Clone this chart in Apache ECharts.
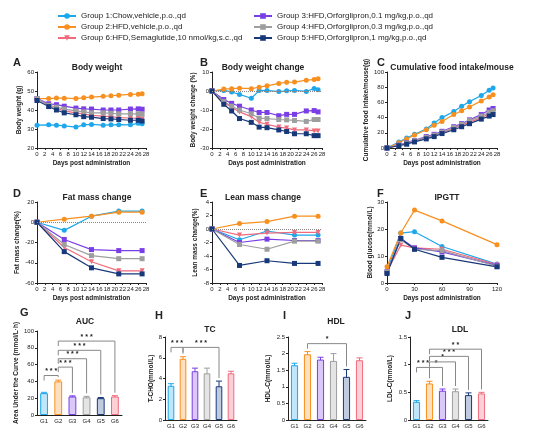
<!DOCTYPE html>
<html><head><meta charset="utf-8">
<script src="https://cdn.jsdelivr.net/npm/echarts@6/dist/echarts.min.js"></script>
<style>html,body{margin:0;padding:0;background:#fff}#c{width:550px;height:446px}</style>
</head><body><div id="c"></div>
<script>
const groupNames=['Group 1:Chow,vehicle,p.o.,qd','Group 2:HFD,vehicle,p.o.,qd','Group 3:HFD,Orforglipron,0.1 mg/kg,p.o.,qd','Group 4:HFD,Orforglipron,0.3 mg/kg,p.o.,qd','Group 5:HFD,Orforglipron,1 mg/kg,p.o.,qd','Group 6:HFD,Semaglutide,10 nmol/kg,s.c.,qd'];
const colors=['#1ea7ea','#f7901e','#7a3ee6','#9e9e9e','#17397a','#ef6b7d'];
const symbols=['circle','circle','rect','rect','rect','path://M0,0L10,0L5,9Z'];
const barCats=['G1','G2','G3','G4','G5','G6'];
const days=[0,3,5,7,10,12,14,17,19,21,24,26,27];
const bw=[[32,32.2,32,31.6,31,32.2,32.4,32,32.2,32.3,32.2,33,32.8],[46,46,46.3,46.2,46,46.5,46.8,47.2,47.5,47.8,48.2,48.3,48.5],[46,43.3,42.8,42,41,40.6,40.5,40,40,40,40.5,40.6,40.4],[46,42.5,41.5,40.5,39.5,39,38.5,38.5,38.3,38,38,38,37.8],[45,41.8,40,38.5,37.5,36.5,36.2,35.5,35.3,35,34.6,34.6,34.2],[46,42.5,41,39.5,38.5,38,37.2,36.8,36.5,36,35.8,35.6,35.3]];
const bwc=[[0,0.3,-0.5,-1.8,-3.8,0.2,0.3,-0.3,0.1,0.3,-0.2,1.3,0.6],[0,1,1.2,1.5,1.2,2,2.7,4,4.6,4.7,5.7,6,6.5],[0,-4.5,-6.5,-8,-10,-11.3,-11.3,-13,-12.3,-12.3,-10.5,-10.3,-11],[0,-5.5,-8,-10,-12,-14.3,-14.5,-15,-15.2,-15.5,-16,-15,-15],[0,-7,-10.5,-14.5,-16.5,-19,-19.3,-20.5,-21.3,-22.5,-22.5,-23.5,-23.5],[0,-6,-8.5,-11,-13.5,-16.5,-17.5,-19,-19.5,-20.5,-20.5,-21,-21]];
const food=[[0,8,13,18,25,33,40,48,55,61,69,76,79],[0,7,12,17,24,30,35,44,49,54,62,67,70],[0,4,7,10,15,18,22,28,32,37,44,50,52],[0,4,6.5,9.5,14,17,21,27,31,36,42,47,49],[0,3,5,8,12,15,19,24,28,32,38,42,44],[0,3.5,6,9,13.5,16.5,20,26,30,34,40,45,47]];
const compDays=[0,7,14,21,27];
const fat=[[0,-8,6,11,11],[0,3,6,10,10],[0,-17,-27,-28,-28],[0,-22,-33,-36,-36],[0,-29,-45,-51,-51],[0,-25,-39,-48,-48]];
const lean=[[0,-1.6,-0.3,-0.9,-0.9],[0,0.8,1.1,1.9,1.9],[0,-2,-1.5,-1.7,-1.7],[0,-2.3,-3,-1.8,-1.8],[0,-5.4,-4.7,-5.1,-5.1],[0,-0.9,-0.6,-0.5,-0.5]];
const gttTimes=[0,15,30,60,120];
const gtt=[[4.5,18.5,19,13.5,7],[6,18.5,27,23,14.2],[4,16.5,13,11.5,6.5],[4,16,12.5,12,6.2],[3.5,16.5,12.5,9.5,6],[4.2,14,13,12.5,6.8]];
const auc=[26,40,22,21,20,22], aucErr=[1,1.5,0.8,1.2,0.8,1];
const tc=[3.3,5.9,4.7,4.5,3.25,4.5], tcErr=[0.2,0.2,0.3,0.5,0.5,0.2];
const hdl=[1.65,1.98,1.82,1.78,1.3,1.8], hdlErr=[0.06,0.08,0.07,0.22,0.22,0.07];
const ldl=[0.33,0.66,0.53,0.52,0.45,0.48], ldlErr=[0.02,0.04,0.03,0.04,0.04,0.02];
const aucSig=[[0,1,47,'* * *'],[1,2,57,'* * *'],[1,3,67,'* * *'],[1,4,77,'* * *'],[1,5,88,'* * *']];
const tcSig=[[0,1,7,'* * *'],[1,4,7,'* * *']];
const hdlSig=[[1,4,2.3,'*']];
const ldlSig=[[0,1,0.95,'* * *'],[1,2,0.95,'*'],[1,3,1.05,'*'],[1,4,1.15,'* * *'],[1,5,1.28,'* *']];

const txt='#222', ff='Arial';
const grids=[
 {left:37,top:72,width:109,height:76},{left:212,top:72,width:110,height:76},{left:387,top:72,width:110,height:76},
 {left:37,top:202,width:109,height:81},{left:212,top:202,width:110,height:81},{left:387,top:202,width:110,height:81},
 {left:37,top:331,width:85,height:84},{left:165,top:337,width:72,height:83},{left:288,top:337,width:78,height:83},{left:410,top:337,width:78,height:83}];
const axLine={lineStyle:{color:'#222',width:1}};
const lab={fontSize:6,color:txt,fontFamily:ff,margin:3};
function vAx(i,min,max,iv,name,gap){return {gridIndex:i,type:'value',min,max,interval:iv,name,nameLocation:'middle',nameGap:gap,nameTextStyle:{fontSize:6.5,fontWeight:'bold',color:txt,fontFamily:ff},axisLine:Object.assign({show:true},axLine),axisTick:{show:true,length:2,lineStyle:{color:'#222'}},axisLabel:lab,splitLine:{show:false}};}
function xVal(i,max,iv){return {gridIndex:i,type:'value',min:0,max,interval:iv,name:'Days post administration',nameLocation:'middle',nameGap:12,nameTextStyle:{fontSize:6.5,fontWeight:'bold',color:txt,fontFamily:ff},axisLine:Object.assign({onZero:false},axLine),axisTick:{length:2,lineStyle:{color:'#222'}},axisLabel:lab,splitLine:{show:false}};}
function xCat(i){return {gridIndex:i,type:'category',data:barCats,axisLine:axLine,axisTick:{length:2,alignWithLabel:true,lineStyle:{color:'#222'}},axisLabel:lab};}
const xAxis=[xVal(0,28,2),xVal(1,28,2),xVal(2,28,2),xVal(3,28,2),xVal(4,28,2),xVal(5,120,30),xCat(6),xCat(7),xCat(8),xCat(9)];
const yAxis=[vAx(0,20,60,10,'Body weight (g)',14),vAx(1,-30,10,10,'Body weight change (%)',14),vAx(2,0,100,20,'Cumulative food intake/mouse(g)',14),
 vAx(3,-60,20,20,'Fat mass change(%)',16),vAx(4,-8,4,2,'Lean mass change(%)',13),vAx(5,0,30,10,'Blood glucose(mmol/L)',12),
 vAx(6,0,100,20,'Area Under the Curve (mmol/L·h)',17),vAx(7,0,8,2,'T-CHO(mmol/L)',9),vAx(8,0,2.5,0.5,'HDL-C(mmol/L)',16),vAx(9,0,1.5,0.5,'LDL-C(mmol/L)',16)];
const series=[];
const order=[0,1,5,2,3,4];
function lines(gi,xs,arr,zero){
 order.forEach(g=>{
  const s={type:'line',name:groupNames[g],xAxisIndex:gi,yAxisIndex:gi,data:xs.map((x,k)=>[x,arr[g][k]]),color:colors[g],symbol:symbols[g],symbolSize:5,lineStyle:{width:1.2},itemStyle:{color:colors[g]}};
  if(zero&&g===0) s.markLine={silent:true,symbol:'none',label:{show:false},lineStyle:{type:'dotted',color:'#888',width:1},data:[{yAxis:0}]};
  series.push(s);
 });
}
lines(0,days,bw);lines(1,days,bwc,true);lines(2,days,food);lines(3,compDays,fat,true);lines(4,compDays,lean,true);lines(5,gttTimes,gtt);
const light=['#bfe6fa','#fde0bf','#d9c8f8','#e4e4e4','#c1cbe0','#fbd0d6'];
function bars(gi,vals,errs,sig){
 series.push({type:'bar',xAxisIndex:gi,yAxisIndex:gi,barWidth:'55%',data:vals.map((v,k)=>({value:v,itemStyle:{color:light[k],borderColor:colors[k],borderWidth:1}}))});
 series.push({type:'custom',xAxisIndex:gi,yAxisIndex:gi,data:vals.map((v,k)=>[k,v,errs[k]]),renderItem:(p,api)=>{
  const x=api.value(0),v=api.value(1),e=api.value(2);const a=api.coord([x,v-e]),b=api.coord([x,v+e]);const c=colors[x];
  return {type:'group',children:[{type:'line',shape:{x1:a[0],y1:a[1],x2:b[0],y2:b[1]},style:{stroke:c,lineWidth:1}},{type:'line',shape:{x1:b[0]-3,y1:b[1],x2:b[0]+3,y2:b[1]},style:{stroke:c,lineWidth:1}},{type:'line',shape:{x1:a[0]-3,y1:a[1],x2:a[0]+3,y2:a[1]},style:{stroke:c,lineWidth:1}}]};}});
 series.push({type:'custom',xAxisIndex:gi,yAxisIndex:gi,data:sig,renderItem:(p,api)=>{
  const i=api.value(0),j=api.value(1),y=api.value(2);const lb=sig[p.dataIndex][3];
  const a=api.coord([i,y]),b=api.coord([j,y]);const d=api.coord([j,vals[j]+errs[j]]);
  return {type:'group',children:[{type:'polyline',shape:{points:[[a[0],a[1]+5],[a[0],a[1]],[b[0],b[1]],[b[0],d[1]-3]]},style:{stroke:'#888',lineWidth:1,fill:null}},{type:'text',style:{text:lb,x:(a[0]+b[0])/2,y:a[1]-1,textAlign:'center',textVerticalAlign:'bottom',fontSize:7,fontWeight:'bold',fill:'#222'}}]};}});
}
bars(6,auc,aucErr,aucSig);bars(7,tc,tcErr,tcSig);bars(8,hdl,hdlErr,hdlSig);bars(9,ldl,ldlErr,ldlSig);
const titles=[['Body weight',92,58],['Body weight change',258,58],['Cumulative food intake/mouse',447,58],['Fat mass change',92,188],['Lean mass change',258,188],['IPGTT',442,188],['AUC',80,312],['TC',205,320],['HDL',331,312],['LDL',455,320]];
const letters=[['A',8,52],['B',195,52],['C',372,52],['D',8,183],['E',195,183],['F',372,183],['G',15,302],['H',150,305],['I',278,305],['J',400,305]];
const title=titles.map(t=>({text:t[0],left:t[1],top:t[2],textAlign:'center',textStyle:{fontSize:8.5,fontWeight:'bold',color:txt,fontFamily:ff}})).concat(letters.map(t=>({text:t[0],left:t[1],top:t[2],textStyle:{fontSize:11,fontWeight:'bold',color:txt,fontFamily:ff}})));
const legStyle={fontSize:8,color:txt,fontFamily:ff};
const chart=echarts.init(document.getElementById('c'),null,{renderer:'canvas'});
chart.setOption({animation:false,title,grid:grids,xAxis,yAxis,series,
 legend:[{orient:'vertical',left:52,top:7,itemGap:3,itemWidth:18,itemHeight:7,textStyle:legStyle,data:[groupNames[0],groupNames[1],groupNames[5]]},
  {orient:'vertical',left:248,top:7,itemGap:3,itemWidth:18,itemHeight:7,textStyle:legStyle,data:[groupNames[2],groupNames[3],groupNames[4]]}]});
</script></body></html>
